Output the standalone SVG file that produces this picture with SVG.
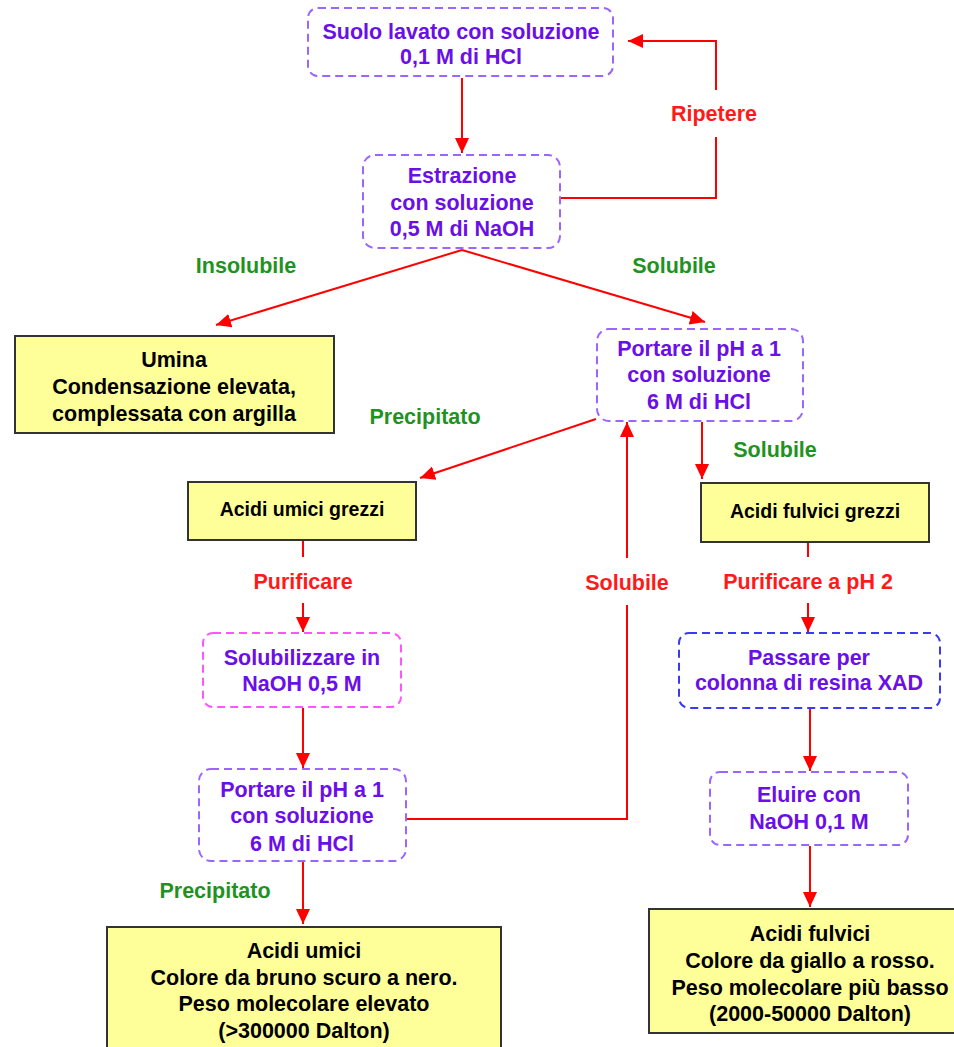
<svg xmlns="http://www.w3.org/2000/svg" width="954" height="1047" viewBox="0 0 954 1047">
<defs>
<marker id="ah" markerUnits="userSpaceOnUse" markerWidth="16" markerHeight="16" viewBox="0 0 16 16" refX="15" refY="8" orient="auto">
<path d="M0,1 L15,8 L0,15 Z" fill="#ff0000"/>
</marker>
<style>
text{font-family:"Liberation Sans",Arial,sans-serif;font-weight:bold;text-anchor:middle;}
.p{fill:#6a0fe8;font-size:21.5px;}
.k{fill:#000;font-size:21.5px;}
.ks{fill:#000;font-size:19.5px;}
.g{fill:#1f921f;font-size:21.5px;}
.r{fill:#ff1a1a;font-size:21.5px;}
.dp{fill:#fff;stroke:#9a66ff;stroke-width:2;stroke-dasharray:8 5;}
.dm{fill:#fff;stroke:#ff55ff;stroke-width:2;stroke-dasharray:8 5;}
.db{fill:#fff;stroke:#3a3af0;stroke-width:2;stroke-dasharray:8 5;}
.y{fill:#ffff99;stroke:#333;stroke-width:2;}
.c{fill:none;stroke:#ff0000;stroke-width:2;}
</style>
</defs>
<rect width="954" height="1047" fill="#fff"/>

<g id="connectors">
<line class="c" x1="462" y1="78" x2="462" y2="153" marker-end="url(#ah)"/>
<polyline class="c" points="561,198 716,198 716,137"/>
<polyline class="c" points="716,90 716,41 628,41" marker-end="url(#ah)"/>
<line class="c" x1="462" y1="250" x2="216" y2="325" marker-end="url(#ah)"/>
<line class="c" x1="462" y1="250" x2="705" y2="322" marker-end="url(#ah)"/>
<line class="c" x1="596" y1="419" x2="420" y2="478" marker-end="url(#ah)"/>
<line class="c" x1="702" y1="422" x2="702" y2="479" marker-end="url(#ah)"/>
<line class="c" x1="303" y1="541" x2="303" y2="557"/>
<line class="c" x1="303" y1="603" x2="303" y2="632" marker-end="url(#ah)"/>
<line class="c" x1="303" y1="708" x2="303" y2="768" marker-end="url(#ah)"/>
<polyline class="c" points="407,819 627,819 627,605"/>
<line class="c" x1="627" y1="558" x2="627" y2="422" marker-end="url(#ah)"/>
<line class="c" x1="303" y1="862" x2="303" y2="924" marker-end="url(#ah)"/>
<line class="c" x1="808" y1="543" x2="808" y2="557"/>
<line class="c" x1="808" y1="603" x2="808" y2="632" marker-end="url(#ah)"/>
<line class="c" x1="810" y1="709" x2="810" y2="771" marker-end="url(#ah)"/>
<line class="c" x1="810" y1="846" x2="810" y2="907" marker-end="url(#ah)"/>
<text class="r" x="714" y="121">Ripetere</text>
<text class="g" x="246" y="273">Insolubile</text>
<text class="g" x="674" y="273">Solubile</text>
<text class="g" x="425" y="424">Precipitato</text>
<text class="g" x="775" y="457">Solubile</text>
<text class="r" x="303" y="589">Purificare</text>
<text class="r" x="627" y="590">Solubile</text>
<text class="r" x="808" y="589">Purificare a pH 2</text>
<text class="g" x="215" y="898">Precipitato</text>
</g>

<g id="n1">
<rect class="dp" x="308" y="8" width="305" height="68" rx="10"/>
<text class="p" x="461" y="39">Suolo lavato con soluzione</text>
<text class="p" x="461" y="64">0,1 M di HCl</text>
</g>
<g id="n2">
<rect class="dp" x="363" y="155" width="197" height="93" rx="12"/>
<text class="p" x="462" y="183">Estrazione</text>
<text class="p" x="462" y="210">con soluzione</text>
<text class="p" x="462" y="236">0,5 M di NaOH</text>
</g>
<g id="n3">
<rect class="y" x="15" y="336" width="319" height="97"/>
<text class="k" x="174" y="367">Umina</text>
<text class="k" x="174" y="394">Condensazione elevata,</text>
<text class="k" x="174" y="421">complessata con argilla</text>
</g>
<g id="n4">
<rect class="dp" x="597" y="329" width="206" height="92" rx="12"/>
<text class="p" x="699" y="356">Portare il pH a 1</text>
<text class="p" x="699" y="382">con soluzione</text>
<text class="p" x="699" y="409">6 M di HCl</text>
</g>
<g id="n5">
<rect class="y" x="188" y="482" width="228" height="58"/>
<text class="ks" x="302" y="516">Acidi umici grezzi</text>
</g>
<g id="n6">
<rect class="y" x="701" y="483" width="228" height="59"/>
<text class="ks" x="815" y="518">Acidi fulvici grezzi</text>
</g>
<g id="n7">
<rect class="dm" x="203" y="633" width="198" height="74" rx="10"/>
<text class="p" x="302" y="665">Solubilizzare in</text>
<text class="p" x="302" y="691">NaOH 0,5 M</text>
</g>
<g id="n8">
<rect class="db" x="679" y="633" width="261" height="75" rx="10"/>
<text class="p" x="809" y="665">Passare per</text>
<text class="p" x="809" y="690">colonna di resina XAD</text>
</g>
<g id="n9">
<rect class="dp" x="199" y="769" width="207" height="92" rx="12"/>
<text class="p" x="302" y="797">Portare il pH a 1</text>
<text class="p" x="302" y="823">con soluzione</text>
<text class="p" x="302" y="851">6 M di HCl</text>
</g>
<g id="n10">
<rect class="dp" x="710" y="772" width="198" height="73" rx="10"/>
<text class="p" x="809" y="802">Eluire con</text>
<text class="p" x="809" y="829">NaOH 0,1 M</text>
</g>
<g id="n11">
<rect class="y" x="107" y="927" width="394" height="130"/>
<text class="k" x="304" y="958">Acidi umici</text>
<text class="k" x="304" y="985">Colore da bruno scuro a nero.</text>
<text class="k" x="304" y="1011">Peso molecolare elevato</text>
<text class="k" x="304" y="1038">(&gt;300000 Dalton)</text>
</g>
<g id="n12">
<rect class="y" x="649" y="909" width="320" height="124"/>
<text class="k" x="810" y="941">Acidi fulvici</text>
<text class="k" x="810" y="968">Colore da giallo a rosso.</text>
<text class="k" x="810" y="995">Peso molecolare più basso</text>
<text class="k" x="810" y="1021">(2000-50000 Dalton)</text>
</g>
</svg>
